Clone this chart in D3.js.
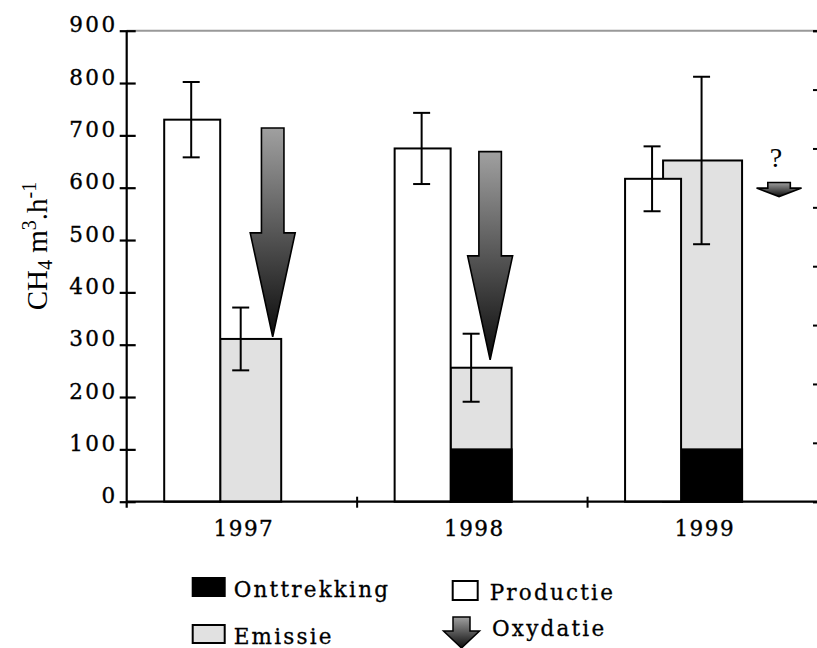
<!DOCTYPE html>
<html>
<head>
<meta charset="utf-8">
<script src="https://cdn.jsdelivr.net/npm/d3@7"></script>
<style>
  body { margin: 0; background: white; }
  text { font-family: "DejaVu Serif", serif; }
</style>
</head>
<body>
<svg id="chart" width="817" height="648"></svg>
<script>
// data (CH4 m3.h-1)
const categories = ["1997", "1998", "1999"];
const productie = [730, 675, 617];
const productieErr = [72, 68, 62];
const emissie = [311, 256, 652];
const emissieErr = [60, 65, 160];
const onttrekking = [0, 100, 100];
const oxydatieVan = [714, 669, 610];
const oxydatieTot = [315, 271, 583];
const oxydatieNoot = ["", "", "?"];
const yTicks = [0, 100, 200, 300, 400, 500, 600, 700, 800, 900];
const legendNames = ["Onttrekking", "Productie", "Emissie", "Oxydatie"];

// layout
const plotLeft = 126.7, plotRight = 818, plotTop = 30.7, plotBottom = 501.7;
const emissieExtra = [0, 0, 18];      // grey bar of 1999 sticks out to the left
const arrowOffset = [146, 133, 191.5]; // arrow centre within each band

let svg = d3.select("#chart");

let y = d3.scaleLinear().domain([0, 900]).range([plotBottom, plotTop]);
let x = d3.scaleBand().domain(categories).range([plotLeft, plotRight]);

// gradient for the arrows
let grad = svg.append("defs").append("linearGradient")
    .attr("id", "arrowGrad")
    .attr("x1", 0).attr("y1", 0).attr("x2", 0).attr("y2", 1);
grad.append("stop").attr("offset", "0%").attr("stop-color", "#a0a0a0");
grad.append("stop").attr("offset", "100%").attr("stop-color", "#0c0c0c");

// top border line
svg.append("line")
    .attr("x1", plotLeft).attr("x2", plotRight)
    .attr("y1", plotTop).attr("y2", plotTop)
    .attr("stroke", "#999").attr("stroke-width", 2);

// right axis (ticks only)
let yR = d3.scaleLinear().domain([0, 8]).range([plotBottom, plotTop]);
svg.append("g")
    .attr("transform", "translate(" + plotRight + ",0)")
    .call(d3.axisLeft(yR).ticks(8).tickSize(5).tickFormat(""))
    .call(g => g.selectAll("line, path").attr("stroke", "#000").attr("stroke-width", 2));

let groups = svg.selectAll("g.cat")
    .data(categories)
    .enter().append("g")
    .attr("class", "cat");

// emissie (grey)
groups.append("rect")
    .attr("x", (d, i) => x(d) + 93.5 - emissieExtra[i])
    .attr("width", (d, i) => 61 + emissieExtra[i])
    .attr("y", (d, i) => y(emissie[i]))
    .attr("height", (d, i) => y(0) - y(emissie[i]))
    .attr("fill", "#e1e1e1")
    .attr("stroke", "#000").attr("stroke-width", 2);

// onttrekking (black)
groups.filter((d, i) => onttrekking[i] > 0).append("rect")
    .attr("x", d => x(d) + 93.5)
    .attr("width", 61)
    .attr("y", d => y(onttrekking[categories.indexOf(d)]))
    .attr("height", d => y(0) - y(onttrekking[categories.indexOf(d)]))
    .attr("fill", "#000")
    .attr("stroke", "#000").attr("stroke-width", 2);

// productie (white)
groups.append("rect")
    .attr("x", d => x(d) + 37.5)
    .attr("width", 56)
    .attr("y", (d, i) => y(productie[i]))
    .attr("height", (d, i) => y(0) - y(productie[i]))
    .attr("fill", "#fff")
    .attr("stroke", "#000").attr("stroke-width", 2);

// error bars
function errorBar(cx, v, e) {
    let g = svg.append("g").attr("stroke", "#000").attr("stroke-width", 2);
    g.append("line").attr("x1", cx).attr("x2", cx).attr("y1", y(v + e)).attr("y2", y(v - e));
    g.append("line").attr("x1", cx - 8.5).attr("x2", cx + 8.5).attr("y1", y(v + e)).attr("y2", y(v + e));
    g.append("line").attr("x1", cx - 8.5).attr("x2", cx + 8.5).attr("y1", y(v - e)).attr("y2", y(v - e));
}
categories.forEach((c, i) => {
    errorBar(x(c) + 64.5, productie[i], productieErr[i]);
    errorBar(x(c) + 114, emissie[i], emissieErr[i]);
});

// arrow shape, pointing down from y0 to y1
function arrowPath(cx, y0, y1, shaftW, headW, headLen) {
    let yh = y1 - headLen;
    return "M" + (cx - shaftW / 2) + "," + y0 +
        "L" + (cx + shaftW / 2) + "," + y0 +
        "L" + (cx + shaftW / 2) + "," + yh +
        "L" + (cx + headW / 2) + "," + yh +
        "L" + cx + "," + y1 +
        "L" + (cx - headW / 2) + "," + yh +
        "L" + (cx - shaftW / 2) + "," + yh + "Z";
}

categories.forEach((c, i) => {
    let y0 = y(oxydatieVan[i]), y1 = y(oxydatieTot[i]);
    let len = y1 - y0;
    let headLen = Math.min(104, len * 0.6);
    svg.append("path")
        .attr("d", arrowPath(x(c) + arrowOffset[i], y0, y1, 22.5, 45, headLen))
        .attr("fill", "url(#arrowGrad)")
        .attr("stroke", "#000").attr("stroke-width", 1.6)
        .attr("stroke-linejoin", "miter");
    if (oxydatieNoot[i]) {
        svg.append("text")
            .attr("x", x(c) + arrowOffset[i] - 3)
            .attr("y", y0 - 15)
            .attr("text-anchor", "middle")
            .style("font-family", "'Liberation Serif', serif")
            .style("font-size", "28px")
            .text(oxydatieNoot[i]);
    }
});

// left axis
let yAxis = svg.append("g")
    .attr("transform", "translate(" + plotLeft + ",0)")
    .call(d3.axisLeft(y).tickValues(yTicks).tickSize(0).tickPadding(9));
yAxis.select(".domain").attr("stroke", "#000").attr("stroke-width", 2.2)
    .attr("d", "M0," + plotTop + "V" + (plotBottom + 6));
yAxis.selectAll(".tick line").attr("x1", -7).attr("x2", 9)
    .attr("stroke", "#000").attr("stroke-width", 2.2);
yAxis.selectAll(".tick text")
    .attr("dy", "0.05em")
    .style("font-size", "21.5px")
    .style("letter-spacing", "2.5px")
    .attr("fill", "#000").attr("stroke", "#000").attr("stroke-width", 0.35);

// bottom axis
let xAxis = svg.append("g")
    .attr("transform", "translate(0," + plotBottom + ")")
    .call(d3.axisBottom(x).tickSize(0));
xAxis.select(".domain").attr("stroke", "#000").attr("stroke-width", 2.2)
    .attr("d", "M" + plotLeft + ",0H" + plotRight);
xAxis.selectAll(".tick text")
    .attr("y", 34).attr("dy", 0).attr("dx", 2)
    .style("font-size", "21.5px")
    .style("letter-spacing", "1.5px")
    .attr("fill", "#000").attr("stroke", "#000").attr("stroke-width", 0.35);
xAxis.selectAll("line.sep")
    .data(categories.slice(1))
    .enter().append("line")
    .attr("class", "sep")
    .attr("x1", d => x(d)).attr("x2", d => x(d))
    .attr("y1", -5).attr("y2", 6)
    .attr("stroke", "#000").attr("stroke-width", 2);

// y axis title
let title = svg.append("text")
    .attr("transform", "translate(47,246) rotate(-90)")
    .attr("text-anchor", "middle")
    .attr("fill", "#000")
    .style("font-family", "'Liberation Serif', serif")
    .style("font-size", "29px");
title.append("tspan").text("CH");
title.append("tspan").attr("baseline-shift", "-25%").style("font-size", "20px").text("4");
title.append("tspan").text(" m");
title.append("tspan").attr("baseline-shift", "super").style("font-size", "20px").text("3");
title.append("tspan").text(".h");
title.append("tspan").attr("baseline-shift", "super").style("font-size", "20px").text("-1");

// legend
let legendPos = [[191.7, 577], [451.7, 580], [191.7, 624], [443, 617]];
let legend = svg.append("g");
legendNames.forEach((name, i) => {
    let [lx, ly] = legendPos[i];
    if (name === "Onttrekking") {
        legend.append("rect").attr("x", lx).attr("y", ly).attr("width", 34).attr("height", 20)
            .attr("fill", "#000");
    } else if (name === "Emissie") {
        legend.append("rect").attr("x", lx + 1).attr("y", ly + 1).attr("width", 32).attr("height", 18)
            .attr("fill", "#e1e1e1").attr("stroke", "#000").attr("stroke-width", 2);
    } else if (name === "Productie") {
        legend.append("rect").attr("x", lx + 1).attr("y", ly + 1).attr("width", 25).attr("height", 19)
            .attr("fill", "#fff").attr("stroke", "#000").attr("stroke-width", 2);
    } else {
        legend.append("path")
            .attr("d", arrowPath(lx + 18.5, ly, ly + 31, 17, 36, 17))
            .attr("fill", "url(#arrowGrad)")
            .attr("stroke", "#000").attr("stroke-width", 1.5);
    }
    legend.append("text")
        .attr("x", name === "Productie" ? lx + 38 : (name === "Oxydatie" ? lx + 49 : lx + 42))
        .attr("y", name === "Oxydatie" ? ly + 19 : ly + 19.5)
        .style("font-size", "21.5px")
        .style("letter-spacing", "2.2px")
        .attr("stroke", "#000").attr("stroke-width", 0.3)
        .text(name);
});
</script>
</body>
</html>
